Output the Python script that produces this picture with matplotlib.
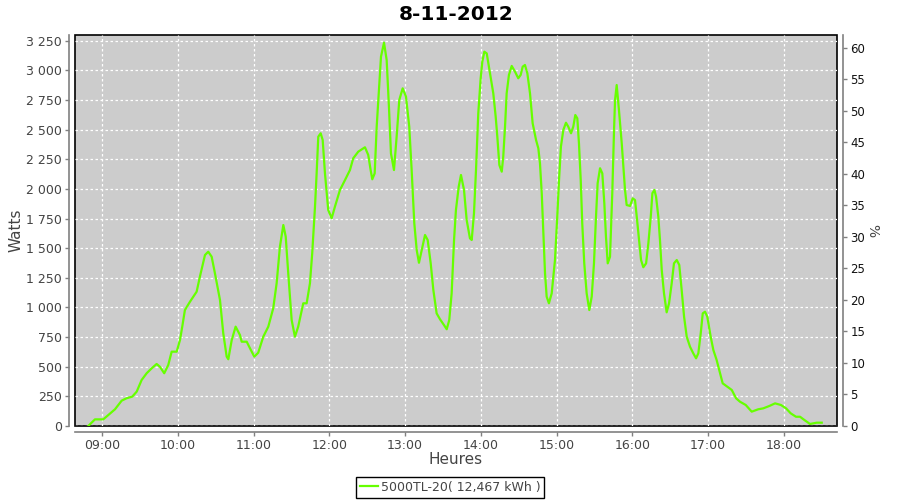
import matplotlib
matplotlib.use('Agg')
import matplotlib.pyplot as plt
from matplotlib.ticker import FuncFormatter

# minutes since midnight / watts
minutes = [528.9, 534.2, 540.8, 544.8, 550.1, 555.4, 559.3, 563.8, 567.3, 571.2,
           575.2, 579.2, 583.1, 585.7, 589.1, 592.3, 595.0, 599.0, 601.6, 603.4,
           605.5, 609.5, 614.8, 617.4, 621.4, 624.0, 626.7, 629.3, 633.3, 635.9,
           638.6, 639.9, 642.6, 645.7, 649.1, 650.5, 654.5, 657.1, 660.5, 663.6,
           667.6, 671.6, 675.5, 678.2, 680.8, 683.5, 685.4, 687.4, 690.1, 692.7,
           695.3, 699.3, 702.0, 704.6, 706.4, 708.6, 709.9, 711.2, 713.1, 714.7,
           716.5, 719.1, 721.8, 724.4, 728.4, 732.4, 736.3, 738.9, 742.9, 748.2,
           750.8, 752.7, 754.0, 755.9, 757.5, 759.3, 760.9, 763.3, 765.4, 767.2,
           768.8, 771.2, 773.3, 775.4, 778.1, 780.7, 783.3, 785.2, 787.3, 789.2,
           791.0, 793.2, 795.8, 797.9, 800.3, 802.4, 805.0, 807.7, 810.8, 813.0,
           815.0, 816.9, 818.8, 820.3, 822.5, 824.3, 826.7, 828.8, 831.4, 832.8,
           834.6, 836.2, 838.0, 839.9, 841.2, 842.8, 844.7, 847.3, 849.9, 851.8,
           853.1, 854.7, 856.6, 857.8, 859.2, 860.5, 862.3, 864.5, 867.1, 869.7,
           871.6, 873.2, 875.0, 876.9, 879.0, 881.1, 883.8, 885.6, 886.9, 888.3,
           889.5, 890.9, 892.2, 894.0, 896.2, 898.8, 900.6, 902.0, 903.5, 905.4,
           907.5, 909.3, 911.5, 913.3, 914.9, 916.5, 917.8, 919.2, 920.4, 922.0,
           923.9, 926.0, 927.9, 929.7, 931.3, 932.6, 934.5, 936.3, 937.9, 939.2,
           940.6, 942.4, 944.2, 945.6, 946.4, 947.7, 949.5, 951.7, 954.3, 955.6,
           958.3, 960.4, 962.2, 963.6, 965.4, 967.0, 968.8, 971.0, 972.8, 974.7,
           976.0, 977.6, 978.9, 980.7, 982.0, 983.4, 985.2, 987.3, 989.2, 991.3,
           993.1, 995.3, 997.3, 999.2, 1001.1, 1003.2, 1005.8, 1008.4, 1010.6, 1012.4,
           1014.3, 1015.9, 1017.7, 1019.5, 1022.2, 1024.3, 1026.9, 1029.6, 1031.7, 1035.4,
           1038.9, 1042.3, 1045.4, 1050.0, 1054.7, 1059.9, 1063.9, 1068.7, 1073.2, 1077.9,
           1081.9, 1085.6, 1089.8, 1093.0, 1096.4, 1100.9, 1106.2, 1110.2]
watts = [0, 56, 56, 93, 141, 214, 234, 248, 290, 388,
         445, 487, 523, 500, 445, 514, 627, 627, 725, 838,
         978, 1048, 1133, 1260, 1442, 1470, 1428, 1288, 1063, 782,
         585, 563, 725, 838, 768, 711, 711, 655, 585, 618,
         753, 838, 993, 1204, 1512, 1695, 1597, 1288, 894, 753,
         838, 1035, 1035, 1204, 1457, 1850, 2131, 2440, 2469, 2412,
         2131, 1822, 1752, 1850, 1991, 2075, 2159, 2258, 2314, 2351,
         2286, 2159, 2081, 2131, 2525, 2834, 3115, 3233, 3087, 2693,
         2300, 2159, 2440, 2750, 2848, 2778, 2525, 2159, 1710, 1485,
         1377, 1485, 1611, 1569, 1372, 1147, 950, 900, 852, 816,
         894, 1119, 1569, 1822, 2019, 2117, 1991, 1738, 1583, 1569,
         1794, 2159, 2637, 2933, 3073, 3157, 3143, 2975, 2806, 2609,
         2440, 2202, 2145, 2272, 2525, 2806, 2961, 3037, 2989, 2933,
         2961, 3031, 3045, 2975, 2806, 2553, 2412, 2342, 2216, 1963,
         1653, 1288, 1091, 1035, 1119, 1400, 1765, 2075, 2356, 2497,
         2558, 2525, 2469, 2525, 2623, 2595, 2384, 2075, 1710, 1372,
         1119, 978, 1091, 1372, 1765, 2047, 2174, 2131, 1878, 1597,
         1372, 1428, 1963, 2497, 2750, 2876, 2665, 2384, 1991, 1864,
         1856, 1920, 1906, 1765, 1569, 1400, 1339, 1372, 1541, 1765,
         1963, 1991, 1934, 1765, 1569, 1316, 1119, 959, 1035, 1204,
         1372, 1400, 1358, 1147, 922, 753, 669, 613, 571, 613,
         782, 950, 964, 922, 753, 641, 557, 445, 360, 331,
         304, 234, 205, 177, 121, 141, 149, 169, 191, 177,
         149, 107, 78, 78, 51, 17, 28, 28, 6]
n = min(len(minutes), len(watts))
minutes = minutes[:n]
watts = watts[:n]

watt_ticks = list(range(0, 3251, 250))
pct_ticks = list(range(0, 61, 5))
hour_ticks = list(range(9, 19))

title = '8-11-2012'
series_label = '5000TL-20( 12,467 kWh )'

plt.rcParams['font.family'] = ['DejaVu Sans']

fig = plt.figure(figsize=(9, 5), dpi=100)
ax = fig.add_axes([75 / 900, 74 / 500, 762 / 900, 391 / 500])
ax2 = ax.twinx()

hours = [m / 60.0 for m in minutes]
line, = ax.plot(hours, watts, color='#66ff00', lw=1.6, label=series_label)

ax.set_xlim(518.4 / 60, 1122.3 / 60)
ax.set_ylim(0, 3298)
ax2.set_ylim(0, 62.06)

ax.set_facecolor('#cccccc')
ax.patch.set_edgecolor('black')
ax.patch.set_linewidth(1.2)

ax.set_xticks(hour_ticks)
ax.xaxis.set_major_formatter(FuncFormatter(lambda v, p: '%02d:00' % int(round(v))))
ax.set_yticks(watt_ticks)
ax.yaxis.set_major_formatter(FuncFormatter(lambda v, p: ('{:,}'.format(int(v))).replace(',', ' ')))
ax2.set_yticks(pct_ticks)

ax.grid(True, color='white', linestyle=(0, (2, 2)), lw=0.9)

for s in ['top', 'right']:
    ax.spines[s].set_visible(False)
for s in ['top', 'left', 'bottom']:
    ax2.spines[s].set_visible(False)
for sp in [ax.spines['left'], ax.spines['bottom'], ax2.spines['right']]:
    sp.set_position(('outward', 4))
    sp.set_color('#808080')
    sp.set_linewidth(1.2)

ax.tick_params(axis='both', colors='#808080', labelcolor='#444444', labelsize=9,
               length=3, width=1, pad=2.5)
ax2.tick_params(axis='y', colors='#808080', labelcolor='#111111', labelsize=8.5,
                length=3, width=1, pad=2.5)

ax.set_title(title, fontsize=14.5, fontweight='bold', pad=11)
ax.set_ylabel('Watts', fontsize=11, color='#444444')
ax.yaxis.set_label_coords(-0.068, 0.5)
ax.set_xlabel('Heures', fontsize=11, color='#444444')
ax.xaxis.set_label_coords(0.5, -0.066)
ax2.set_ylabel('%', fontsize=10, color='#444444', rotation=-90, va='center')
ax2.yaxis.set_label_coords(1.046, 0.5)

leg = fig.legend(handles=[line], loc='lower center', bbox_to_anchor=(0.5, 0.0),
                 fontsize=9, frameon=True, fancybox=False, edgecolor='black',
                 framealpha=1, handlelength=1.5, handletextpad=0.2,
                 borderpad=0.3, borderaxespad=0.2)
leg.get_frame().set_linewidth(1.0)
for t in leg.get_texts():
    t.set_color('#444444')

fig.savefig('out.png', dpi=100)
